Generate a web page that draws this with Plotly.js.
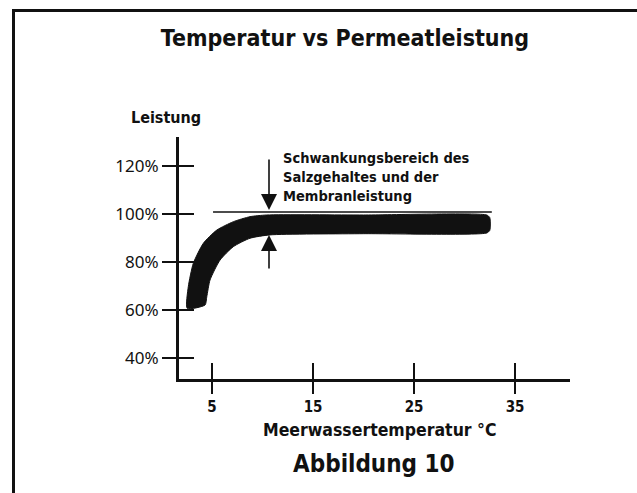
<!DOCTYPE html>
<html>
<head>
<meta charset="utf-8">
<script src="https://cdn.plot.ly/plotly-3.0.1.min.js"></script>
<style>
  html, body { margin: 0; padding: 0; background: #fff; }
  #wrap { position: relative; width: 637px; height: 493px; }
  #chart { position: absolute; left: 0; top: 0; width: 637px; height: 493px; }
  #frame { position: absolute; left: 12px; top: 9px; right: -5px; bottom: -5px;
           border-left: 3px solid #111; border-top: 3px solid #111; pointer-events: none; }
</style>
</head>
<body>
<div id="wrap">
  <div id="chart"></div>
  <div id="frame"></div>
</div>
<script>
// ---- data ----
// upper (outer) edge of the performance band
const bandUpperX = [2.55, 2.65, 3.15, 4.14, 5.47, 7.11, 8.76, 10.42, 20.0, 32.2, 32.5];
const bandUpperY = [60.7, 69.7, 79.5, 87.8, 93.3, 96.8, 98.9, 99.6, 99.6, 99.6, 98.5];
// lower (inner) edge of the performance band
const bandLowerX = [4.31, 4.48, 4.80, 5.79, 7.11, 8.76, 10.74, 20.0, 32.2, 32.5];
const bandLowerY = [62.1, 65.5, 72.5, 80.8, 86.4, 89.9, 91.3, 91.8, 92.1, 93.2];
// 100 % reference line
const refLineX = [5.1, 32.7];
const refLineY = [100.8, 100.8];
// fluctuation range arrows (x position, tail and tip values)
const arrowX = 10.64;
const arrowDownTail = 123.3, arrowDownTip = 101.7;
const arrowUpTail = 76.7, arrowUpTip = 91.3;
// axes
const xTickVals = [5, 15, 25, 35];
const xTickText = ['5', '15', '25', '35'];
const yTickVals = [40, 60, 80, 100, 120];
const yTickText = ['40%', '60%', '80%', '100%', '120%'];
const xRange = [1.73, 40.44];
const yRange = [31.25, 132.1];

const titleText = 'Temperatur vs Permeatleistung';
const yLabel = 'Leistung';
const xLabel = 'Meerwassertemperatur °C';
const figLabel = 'Abbildung 10';
const noteText = 'Schwankungsbereich des<br>Salzgehaltes und der<br>Membranleistung';

// ---- build ----
const polyX = bandUpperX.concat(bandLowerX.slice().reverse());
const polyY = bandUpperY.concat(bandLowerY.slice().reverse());
polyX.push(bandUpperX[0]); polyY.push(bandUpperY[0]);

const COND = "'DejaVu Sans Condensed', 'DejaVu Sans', sans-serif";
const REG = "'Noto Sans', 'Open Sans', sans-serif";
const INK = '#111';

const traces = [
  { x: polyX, y: polyY, type: 'scatter', mode: 'lines', fill: 'toself',
    fillcolor: INK, line: { color: INK, width: 1, shape: 'spline', smoothing: 0.6 },
    hoverinfo: 'skip', showlegend: false },
  { x: refLineX, y: refLineY, type: 'scatter', mode: 'lines',
    line: { color: INK, width: 1.5 }, hoverinfo: 'skip', showlegend: false },
  { x: [], y: [], xaxis: 'x2', yaxis: 'y2', type: 'scatter', showlegend: false }
];

const axisCommon = { showgrid: false, zeroline: false, fixedrange: true };

const layout = {
  width: 637, height: 493,
  margin: { l: 179, r: 67, t: 137, b: 114, pad: 0 },
  paper_bgcolor: '#fff', plot_bgcolor: '#fff',
  showlegend: false,
  title: { text: titleText, x: 345 / 637, xref: 'container', xanchor: 'center',
           y: 1 - 38 / 493, yref: 'container', yanchor: 'middle',
           font: { family: COND, size: 23, color: INK, weight: 'bold' } },
  xaxis: Object.assign({}, axisCommon, {
    range: xRange, showline: true, linecolor: INK, linewidth: 3,
    ticks: 'outside', ticklen: 12, tickwidth: 2, tickcolor: INK,
    tickvals: xTickVals, ticktext: xTickText,
    tickfont: { family: COND, size: 15, color: INK, weight: 'bold' } }),
  yaxis: Object.assign({}, axisCommon, {
    range: yRange, showline: true, linecolor: INK, linewidth: 3,
    ticks: 'outside', ticklen: 14, tickwidth: 2, tickcolor: INK,
    tickvals: yTickVals, ticktext: yTickText,
    tickfont: { family: REG, size: 17, color: INK } }),
  xaxis2: Object.assign({}, axisCommon, {
    range: xRange, overlaying: 'x', anchor: 'y2', showline: false,
    ticks: 'inside', ticklen: 16, tickwidth: 2, tickcolor: INK,
    tickvals: xTickVals, showticklabels: false }),
  yaxis2: Object.assign({}, axisCommon, {
    range: yRange, overlaying: 'y', anchor: 'x2', showline: false,
    ticks: 'inside', ticklen: 15, tickwidth: 2, tickcolor: INK,
    tickvals: yTickVals, showticklabels: false }),
  annotations: [
    { text: yLabel, xref: 'paper', yref: 'paper', x: (166 - 179) / 391, y: (379 - 117) / 242,
      xanchor: 'center', yanchor: 'middle', showarrow: false,
      font: { family: COND, size: 16, color: INK, weight: 'bold' } },
    { text: noteText, xref: 'paper', yref: 'paper', x: (281 - 179) / 391, y: (379 - 176.5) / 242,
      xanchor: 'left', yanchor: 'middle', align: 'left', showarrow: false,
      font: { family: COND, size: 14.5, color: INK, weight: 'bold' } },
    { text: xLabel, xref: 'paper', yref: 'paper', x: (380 - 179) / 391, y: (379 - 430) / 242,
      xanchor: 'center', yanchor: 'middle', showarrow: false,
      font: { family: COND, size: 17.5, color: INK, weight: 'bold' } },
    { text: figLabel, xref: 'paper', yref: 'paper', x: (374 - 179) / 391, y: (379 - 464) / 242,
      xanchor: 'center', yanchor: 'middle', showarrow: false,
      font: { family: COND, size: 24, color: INK, weight: 'bold' } },
    { text: '', x: arrowX, y: arrowDownTip, ax: arrowX, ay: arrowDownTail,
      xref: 'x', yref: 'y', axref: 'x', ayref: 'y', showarrow: true,
      arrowhead: 2, arrowsize: 2, arrowwidth: 1.6, arrowcolor: INK, standoff: 0 },
    { text: '', x: arrowX, y: arrowUpTip, ax: arrowX, ay: arrowUpTail,
      xref: 'x', yref: 'y', axref: 'x', ayref: 'y', showarrow: true,
      arrowhead: 2, arrowsize: 2, arrowwidth: 1.6, arrowcolor: INK, standoff: 0 }
  ]
};

Plotly.newPlot('chart', traces, layout, { staticPlot: true, displayModeBar: false });
</script>
</body>
</html>
